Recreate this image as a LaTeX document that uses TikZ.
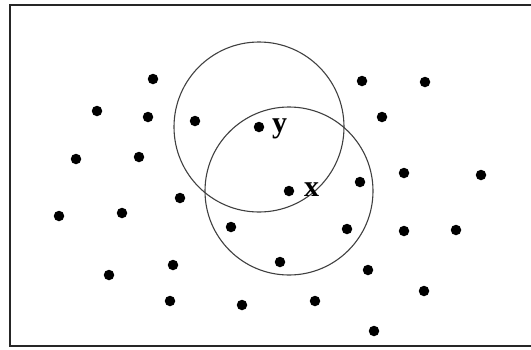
\documentclass[tikz,border=0pt]{standalone}
\usepackage{fontspec}
\setmainfont{Liberation Serif}
\begin{document}
\begin{tikzpicture}[x=1pt,y=-1pt,
  dot/.style={circle,fill=black,inner sep=0pt,minimum size=10.5pt},
  ring/.style={draw=black!75,line width=1.1pt},
  frameline/.style={draw=black!85,line width=1.8pt},
  lbl/.style={font=\fontsize{30}{30}\selectfont\bfseries,inner sep=0pt}]
\useasboundingbox (0,0) rectangle (531,349);
\coordinate (tl) at (10,5);
\coordinate (tr) at (540,5);
\coordinate (bl) at (10,346);
\coordinate (br) at (540,346);
\draw[frameline] (tr) -- (tl) -- (bl) -- (br);
\foreach \n/\p in {1/{153,79},2/{97,111},3/{148,117},4/{195,121},6/{76,159},7/{139,157},
  8/{362,81},9/{425,82},10/{382,117},11/{404,173},12/{481,175},13/{180,198},14/{59,216},
  15/{122,213},16/{231,227},17/{173,265},18/{109,275},19/{170,301},20/{242,305},
  22/{360,182},23/{347,229},24/{404,231},25/{456,230},26/{280,262},27/{368,270},
  28/{424,291},29/{315,301},30/{374,331}}
  \node[dot] (d\n) at (\p) {};
\node[dot] (yd) at (259,127) {};
\node[dot] (xd) at (289,191) {};
\draw[ring] (yd) circle (85);
\draw[ring] (xd) circle (84);
\node[lbl,anchor=base west] (ylab) at (272,132) {y};
\node[lbl,anchor=base west] (xlab) at (304,196) {x};
\end{tikzpicture}
\end{document}
